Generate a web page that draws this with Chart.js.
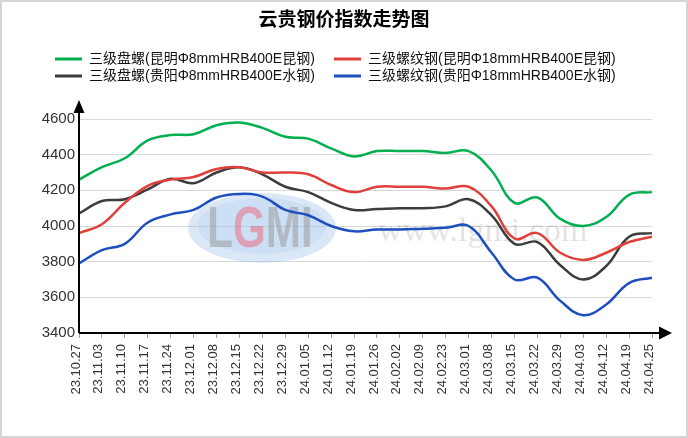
<!DOCTYPE html>
<html>
<head>
<meta charset="utf-8">
<script src="https://cdn.jsdelivr.net/npm/chart.js@4.4.1/dist/chart.umd.min.js"></script>
<style>
html,body{margin:0;padding:0;background:#fff;}
canvas{display:block;}
</style>
</head>
<body>
<canvas id="c" width="688" height="438"></canvas>
<script>
const chartTitle = '云贵钢价指数走势图';
const categories = ['23.10.27','23.11.03','23.11.10','23.11.17','23.11.24','23.12.01','23.12.08','23.12.15','23.12.22','23.12.29','24.01.05','24.01.12','24.01.19','24.01.26','24.02.02','24.02.09','24.02.23','24.03.01','24.03.08','24.03.15','24.03.22','24.03.29','24.04.03','24.04.12','24.04.19','24.04.25'];
const seriesNames = ['三级盘螺(昆明Φ8mmHRB400E昆钢)','三级螺纹钢(昆明Φ18mmHRB400E昆钢)','三级盘螺(贵阳Φ8mmHRB400E水钢)','三级螺纹钢(贵阳Φ18mmHRB400E水钢)'];
const kmWireRod = [4260,4330,4380,4480,4510,4515,4565,4580,4550,4500,4490,4435,4390,4420,4420,4420,4410,4420,4310,4130,4160,4040,4000,4050,4175,4190];
const kmRebar   = [3960,4010,4130,4225,4260,4275,4320,4330,4300,4300,4290,4230,4190,4220,4220,4220,4210,4220,4110,3930,3960,3850,3810,3850,3910,3940];
const gyWireRod = [4070,4140,4150,4205,4265,4240,4300,4330,4290,4220,4190,4130,4090,4095,4100,4100,4110,4150,4060,3900,3910,3780,3700,3775,3940,3960];
const gyRebar   = [3790,3865,3900,4020,4065,4090,4160,4180,4165,4090,4060,4000,3970,3980,3980,3985,3990,4000,3850,3700,3710,3580,3500,3560,3680,3710];
const yMin = 3400, yMax = 4600, yStep = 200;
const colors = ['#00B050','#E0403A','#3C3C3C','#1F4EBF'];

const FONT = '"Liberation Sans", Arial, "Noto Sans CJK SC", sans-serif';

const frame = {
  id: 'frame',
  beforeDraw(chart) {
    const ctx = chart.ctx;
    ctx.save();
    ctx.fillStyle = '#fff';
    ctx.fillRect(0, 0, chart.width, chart.height);
    ctx.restore();
  },
  afterDraw(chart) {
    const ctx = chart.ctx;
    ctx.save();
    ctx.strokeStyle = '#d6d6d6';
    ctx.lineWidth = 2;
    ctx.strokeRect(1, 1, chart.width - 2, chart.height - 2);
    ctx.fillStyle = '#000';
    ctx.font = 'bold 19px ' + FONT;
    ctx.textAlign = 'center';
    ctx.textBaseline = 'middle';
    ctx.fillText(chartTitle, chart.width / 2, 21);
    ctx.font = '14px ' + FONT;
    ctx.textAlign = 'left';
    const cols = [55, 334], rows = [59, 76];
    chart.data.datasets.forEach((ds, i) => {
      const x = cols[i % 2], y = rows[Math.floor(i / 2)];
      ctx.fillStyle = ds.borderColor;
      ctx.fillRect(x, y - 1.5, 27, 3);
      ctx.fillStyle = '#111';
      ctx.fillText(ds.label, x + 34, y);
    });
    ctx.restore();
  }
};

const watermark = {
  id: 'watermark',
  beforeDatasetsDraw(chart) {
    const ctx = chart.ctx;
    ctx.save();
    ctx.beginPath();
    ctx.ellipse(262, 228, 74, 35, 0, 0, Math.PI * 2);
    ctx.fillStyle = 'rgba(130,175,228,0.30)';
    ctx.fill();
    ctx.beginPath();
    ctx.ellipse(262, 226, 64, 28, 0, 0, Math.PI * 2);
    ctx.fillStyle = 'rgba(175,205,240,0.30)';
    ctx.fill();
    ctx.font = 'bold 54px ' + FONT;
    ctx.textBaseline = 'alphabetic';
    const letters = [['L','rgba(150,150,150,0.5)'],['G','rgba(235,100,120,0.5)'],['M','rgba(150,150,150,0.5)'],['I','rgba(150,150,150,0.5)']];
    let total = 0;
    letters.forEach(l => total += ctx.measureText(l[0]).width);
    const sx = 0.78;
    ctx.translate(260 - total * sx / 2, 247);
    ctx.scale(sx, 1.05);
    let cx = 0;
    letters.forEach(l => {
      ctx.fillStyle = l[1];
      ctx.fillText(l[0], cx, 0);
      cx += ctx.measureText(l[0]).width;
    });
    ctx.restore();
    ctx.save();
    ctx.font = '34px "Liberation Serif", "DejaVu Serif", serif';
    ctx.fillStyle = 'rgba(0,0,0,0.11)';
    ctx.textBaseline = 'middle';
    ctx.textAlign = 'left';
    ctx.fillText('www.lgmi.com', 378, 232);
    ctx.restore();
  }
};

const axes = {
  id: 'axesArrows',
  afterDatasetsDraw(chart) {
    const ctx = chart.ctx, a = chart.chartArea;
    ctx.save();
    ctx.strokeStyle = '#000';
    ctx.fillStyle = '#000';
    ctx.lineWidth = 2;
    ctx.beginPath();
    ctx.moveTo(a.left, a.bottom);
    ctx.lineTo(a.left, a.top - 8);
    ctx.moveTo(a.left, a.bottom);
    ctx.lineTo(a.right + 8, a.bottom);
    ctx.stroke();
    ctx.beginPath();
    ctx.moveTo(a.left, a.top - 19);
    ctx.lineTo(a.left - 5.5, a.top - 6);
    ctx.lineTo(a.left + 5.5, a.top - 6);
    ctx.closePath();
    ctx.fill();
    ctx.beginPath();
    ctx.moveTo(a.right + 20, a.bottom);
    ctx.lineTo(a.right + 7, a.bottom - 6.5);
    ctx.lineTo(a.right + 7, a.bottom + 6.5);
    ctx.closePath();
    ctx.fill();
    ctx.restore();
  }
};

const series = [kmWireRod, kmRebar, gyWireRod, gyRebar];

new Chart(document.getElementById('c'), {
  type: 'line',
  data: {
    labels: categories,
    datasets: series.map((d, i) => ({
      label: seriesNames[i],
      data: d,
      borderColor: colors[i],
      backgroundColor: colors[i],
      borderWidth: 2.5,
      pointRadius: 0,
      tension: 0.4,
      fill: false
    }))
  },
  options: {
    responsive: false,
    animation: false,
    devicePixelRatio: 1,
    layout: { padding: { top: 119, right: 36, left: 0, bottom: 0 } },
    plugins: {
      legend: { display: false },
      title: { display: false },
      tooltip: { enabled: false }
    },
    scales: {
      x: {
        type: 'category',
        offset: false,
        afterFit(s) { s.height = 105; },
        border: { display: false },
        grid: { drawOnChartArea: false, drawTicks: true, tickLength: 5, color: '#a0a0a0' },
        ticks: {
          autoSkip: false, maxRotation: 90, minRotation: 90,
          color: '#333', padding: 6, labelOffset: -3,
          font: { family: FONT, size: 13 }
        }
      },
      y: {
        min: yMin, max: yMax,
        afterFit(s) { s.width = 79; },
        border: { display: false },
        grid: { color: '#d9d9d9', lineWidth: 1, drawTicks: false },
        ticks: {
          stepSize: yStep, color: '#333', padding: 4,
          font: { family: FONT, size: 15 },
          callback: v => String(v)
        }
      }
    }
  },
  plugins: [frame, watermark, axes]
});
</script>
</body>
</html>
